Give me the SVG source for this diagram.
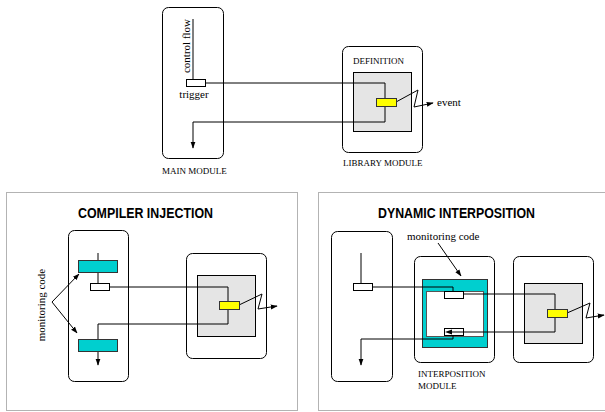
<svg xmlns="http://www.w3.org/2000/svg" width="605" height="412" viewBox="0 0 605 412">
<defs>
<marker id="ah" viewBox="0 0 10 10" refX="9" refY="5" markerWidth="7" markerHeight="7" markerUnits="userSpaceOnUse" orient="auto">
<path d="M0,1.5 L10,5 L0,8.5 Z" fill="#000"/>
</marker>
<style>
.mod{fill:#fff;stroke:#000;stroke-width:1}
.def{fill:#e5e5e5;stroke:#000;stroke-width:1}
.hook{fill:#ffff00;stroke:#333;stroke-width:1}
.trig{fill:#fff;stroke:#000;stroke-width:1}
.mon{fill:#00cfcf;stroke:#333;stroke-width:1}
.ln{fill:none;stroke:#000;stroke-width:1}
.arr{fill:none;stroke:#000;stroke-width:1;marker-end:url(#ah)}
.panel{fill:none;stroke:#666;stroke-width:1;stroke-dasharray:1,1}
.lbl{font-family:"Liberation Serif",serif;font-size:11px;fill:#000}
.cap{font-family:"Liberation Serif",serif;font-size:9px;fill:#000}
.ttl{font-family:"Liberation Sans",Arial,sans-serif;font-size:14px;font-weight:bold;fill:#000}
</style>
</defs>

<!-- Top section -->
<g id="main-module">
<rect class="mod" x="162.5" y="7.5" width="61" height="151" rx="6"/>
<text class="lbl" transform="translate(190,46) rotate(-90)" text-anchor="middle">control flow</text>
<text class="lbl" x="194" y="98" text-anchor="middle">trigger</text>
<text class="cap" x="162" y="174">MAIN MODULE</text>
</g>
<g id="library-module">
<rect class="mod" x="342.5" y="46.5" width="80" height="106" rx="6"/>
<text class="cap" x="353" y="64">DEFINITION</text>
<rect class="def" x="353.5" y="72.5" width="58" height="59"/>
<text class="cap" x="343" y="166">LIBRARY MODULE</text>
</g>
<g id="connectors-top">
<path class="ln" d="M193,19 V83 H385 V122 H193"/>
<path class="arr" d="M193,122 V148"/>
<path class="arr" d="M396,102 L418,90 L414,107 L433,103"/>
</g>
<g id="trigger-top"><rect class="trig" x="186.5" y="79.5" width="19" height="7"/></g>
<g id="hook-top"><rect class="hook" x="376.5" y="98.5" width="20" height="8"/></g>
<text class="lbl" x="437" y="106">event</text>

<!-- Compiler injection panel -->
<g id="panel-compiler">
<rect class="panel" x="6.5" y="192.5" width="291" height="218"/>
<text class="ttl" x="78" y="218" textLength="135" lengthAdjust="spacingAndGlyphs">COMPILER INJECTION</text>
</g>
<g id="ci-main-module">
<rect class="mod" x="68.5" y="230.5" width="60" height="151" rx="6"/>
</g>
<g id="ci-library-module">
<rect class="mod" x="186.5" y="253.5" width="80" height="105" rx="6"/>
<rect class="def" x="197.5" y="275.5" width="58" height="61"/>
</g>
<g id="ci-connectors">
<path class="ln" d="M98,253 V287 H228 V324 H98"/>
<path class="arr" d="M98,324 V365"/>
<path class="arr" d="M239,305 L262,294 L258,309 L277,306"/>
<path class="arr" d="M52,302 L79,274"/>
<path class="arr" d="M52,302 L77,333"/>
</g>
<g id="ci-monitor-top"><rect class="mon" x="78.5" y="260.5" width="39" height="12"/></g>
<g id="ci-monitor-bottom"><rect class="mon" x="78.5" y="339.5" width="39" height="12"/></g>
<g id="ci-trigger"><rect class="trig" x="90.5" y="283.5" width="19" height="7"/></g>
<g id="ci-hook"><rect class="hook" x="219.5" y="301.5" width="20" height="8"/></g>
<text class="lbl" transform="translate(45,305) rotate(-90)" text-anchor="middle">monitoring code</text>

<!-- Dynamic interposition panel -->
<g id="panel-dynamic">
<rect class="panel" x="318.5" y="192.5" width="292" height="218"/>
<text class="ttl" x="378" y="218" textLength="157" lengthAdjust="spacingAndGlyphs">DYNAMIC INTERPOSITION</text>
</g>
<g id="di-main-module">
<rect class="mod" x="331.5" y="231.5" width="61" height="150" rx="6"/>
</g>
<g id="di-interposition-module">
<rect class="mod" x="414.5" y="256.5" width="80" height="106" rx="6"/>
<rect class="mon" x="422.5" y="279.5" width="65" height="68"/>
<rect class="trig" x="426.5" y="291.5" width="57" height="45" style="stroke:#555"/>
<text class="cap" x="418" y="377">INTERPOSITION</text>
<text class="cap" x="418" y="389">MODULE</text>
</g>
<g id="di-library-module">
<rect class="mod" x="513.5" y="256.5" width="80" height="106" rx="6"/>
<rect class="def" x="524.5" y="283.5" width="58" height="60"/>
</g>
<g id="di-connectors">
<path class="ln" d="M361,253 V287 H453 V294 H555 V332 H464"/>
<path class="ln" d="M453,332 V339 H361"/>
<path class="arr" d="M361,339 V365"/>
<path class="arr" d="M567,313 L590,303 L586,318 L604,315"/>
<path class="arr" d="M438,243 L461,276"/>
</g>
<g id="di-trigger"><rect class="trig" x="353.5" y="283.5" width="19" height="7"/></g>
<g id="di-stub-top"><rect class="trig" x="444.5" y="291.5" width="19" height="7"/></g>
<g id="di-stub-bottom"><rect class="trig" x="444.5" y="328.5" width="19" height="7"/>
<path d="M445,332 L452,329.5 L452,334.5 Z" fill="#000"/>
<path class="ln" d="M452,332 H464"/></g>
<g id="di-hook"><rect class="hook" x="547.5" y="309.5" width="20" height="8"/></g>
<text class="lbl" x="407" y="240">monitoring code</text>
</svg>
